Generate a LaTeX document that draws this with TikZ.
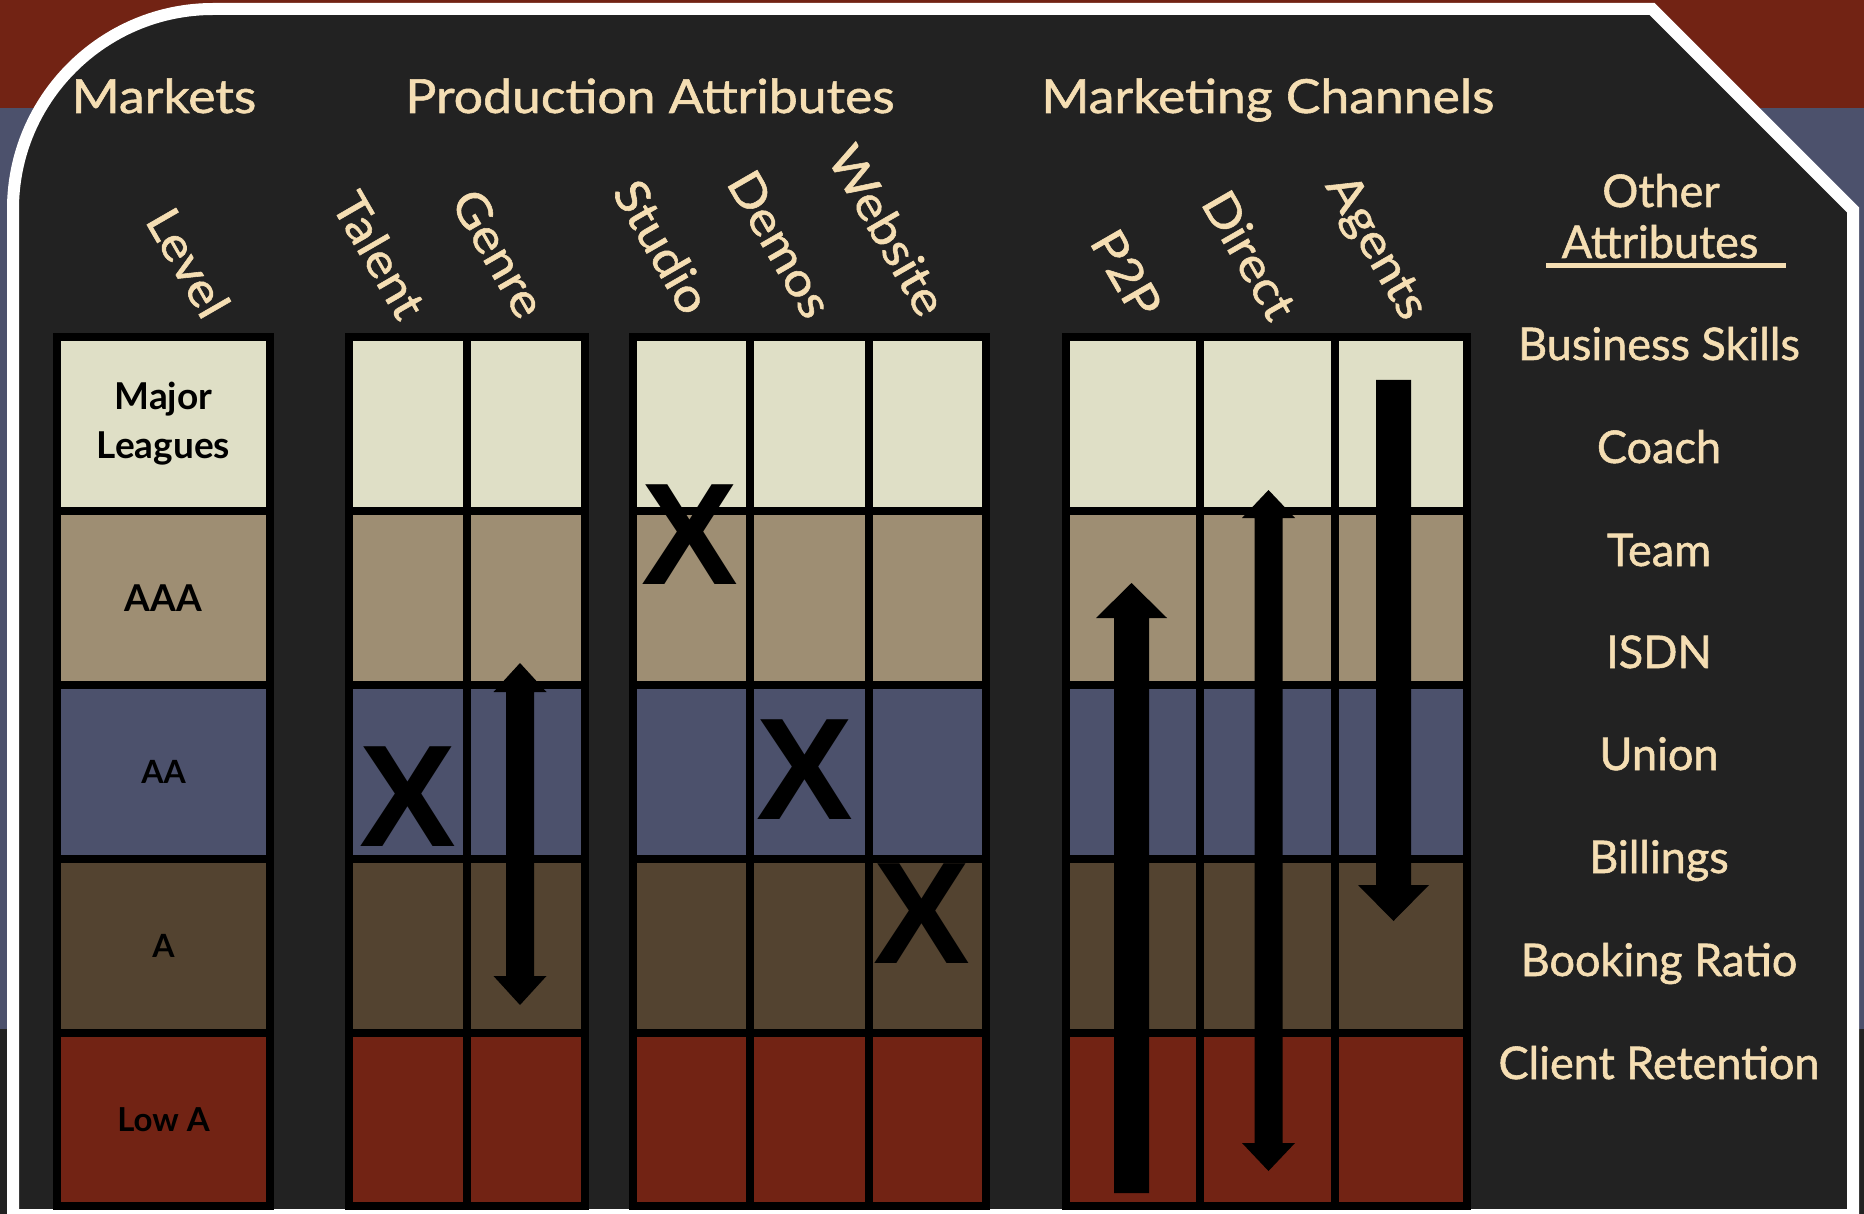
\documentclass[tikz,border=0pt]{standalone}
\usepackage{fontspec}
\setmainfont{Lato}
\newfontfamily\hfont{Lato}[FakeStretch=1.1, FakeBold=1.2]
\newfontfamily\lfont{Lato}[FakeBold=1.2]
\newfontfamily\xfont{Liberation Sans}
\usetikzlibrary{calc}
\definecolor{bgdark}{HTML}{222222}
\definecolor{bandred}{HTML}{722314}
\definecolor{bandslate}{HTML}{4C516C}
\definecolor{rowA}{HTML}{DFDFC6}
\definecolor{rowB}{HTML}{9E8E73}
\definecolor{rowC}{HTML}{4C516C}
\definecolor{rowD}{HTML}{534330}
\definecolor{rowE}{HTML}{722314}
\definecolor{wheat}{HTML}{F5DEB3}
\begin{document}
\begin{tikzpicture}[x=1pt,y=-1pt,
  header/.style={text=wheat, font=\hfont\fontsize{47}{54}\selectfont, inner sep=0pt, anchor=base},
  collabel/.style={text=wheat, font=\hfont\fontsize{47}{54}\selectfont, inner sep=0pt, anchor=base east, rotate=-60},
  attr/.style={text=wheat, font=\lfont\fontsize{45}{50}\selectfont, inner sep=0pt, anchor=base},
  rowlabel/.style={text=black, font=\bfseries\fontsize{32}{49}\selectfont, inner sep=0pt, align=center},
  xmark/.style={text=black, font=\xfont\bfseries\fontsize{145}{145}\selectfont, inner sep=0pt},
  gridline/.style={line width=8pt, black, line cap=rect},
  blockarrow/.style={fill=black}
]
\useasboundingbox (0,0) rectangle (1864,1214);
% backdrop
\fill[bgdark] (0,0) rectangle (1864,1214);
\fill[bandred] (0,0) rectangle (1864,108);
\fill[bandslate] (0,108) rectangle (1864,1029);
% main panel
\draw[line width=12pt, white, fill=bgdark, line join=miter]
  (13,1215) -- (13,209) .. controls (13,99) and (103,9) .. (213,9)
  -- (1652,9) -- (1853,210) -- (1853,1215) -- cycle;

% cells
\foreach \xl/\xr in {57/270, 349/585, 633/986, 1066/1467} {
  \fill[rowA] (\xl,337) rectangle (\xr,511);
  \fill[rowB] (\xl,511) rectangle (\xr,685);
  \fill[rowC] (\xl,685) rectangle (\xr,859);
  \fill[rowD] (\xl,859) rectangle (\xr,1033);
  \fill[rowE] (\xl,1033) rectangle (\xr,1206);
  \foreach \y in {337,511,685,859,1033,1206}
    \draw[gridline] (\xl,\y) -- (\xr,\y);
}
\foreach \x in {57,270,349,467,585,633,750,869,986,1066,1200,1335,1467}
  \draw[gridline] (\x,337) -- (\x,1206);

% headers
\node[header] (hmk) at (164,113) {Markets};
\node[header] (hpa) at (650,113) {Production Attributes};
\node[header] (hmc) at (1268,113) {Marketing Channels};

% column labels
\node[collabel] (lLevel) at (203,322) {Level};
\node[collabel] (lTalent) at (399,323) {Talent};
\node[collabel] (lGenre) at (519,322) {Genre};
\node[collabel] (lStudio) at (684,318) {Studio};
\node[collabel] (lDemos) at (806,322) {Demos};
\node[collabel] (lWebsite) at (920,320) {Website};
\node[collabel] (lP2P) at (1135,322) {P2P};
\node[collabel] (lDirect) at (1270,324) {Direct};
\node[collabel] (lAgents) at (1404,323) {Agents};

% row labels
\node[rowlabel, font=\bfseries\fontsize{37}{49}\selectfont] (rML) at (163.5,424) {Major\\Leagues};
\node[rowlabel, font=\bfseries\fontsize{37}{40}\selectfont] (rAAA) at (163.5,598) {AAA};
\node[rowlabel] (rAA) at (163.5,772) {AA};
\node[rowlabel] (rA) at (163.5,946) {A};
\node[rowlabel, font=\bfseries\fontsize{33}{40}\selectfont] (rLA) at (163.5,1119.5) {Low A};

% other attributes
\node[attr] (oOther) at (1661,207) {Other};
\node[attr] (oAttr) at (1660,258) {Attributes};
\draw[wheat, line width=5pt] (1546,265.5) -- (1786,265.5);
\node[attr] (o1) at (1659,360) {Business Skills};
\node[attr] (o2) at (1659,463) {Coach};
\node[attr] (o3) at (1659,566) {Team};
\node[attr] (o4) at (1659,668) {ISDN};
\node[attr] (o5) at (1659,770) {Union};
\node[attr] (o6) at (1659,873) {Billings};
\node[attr] (o7) at (1659,976) {Booking Ratio};
\node[attr] (o8) at (1659,1079) {Client Retention};

% X marks
\node[xmark] (xTalent) at (408,797) {X};
\node[xmark] (xStudio) at (690,535) {X};
\node[xmark] (xDemos) at (805,770) {X};
\node[xmark] (xWebsite) at (922,914) {X};

% block arrows
\coordinate (gT) at (520,663);
\coordinate (gB) at (520,1005);
\fill[blockarrow] (gT) -- ++(26.5,29) -- ++(-12.5,0) -- ($(gB)+(14,-29)$) -- ++(12.5,0)
  -- (gB) -- ++(-26.5,-29) -- ++(12.5,0) -- ($(gT)+(-14,29)$) -- ++(-12.5,0) -- cycle;
\coordinate (pT) at (1131.5,583);
\coordinate (pB) at (1131.5,1193);
\fill[blockarrow] (pT) -- ++(35.5,35) -- ++(-18,0) -- ($(pB)+(17.5,0)$) -- ++(-35,0)
  -- ($(pT)+(-17.5,35)$) -- ++(-18,0) -- cycle;
\coordinate (dT) at (1268.5,490);
\coordinate (dB) at (1268.5,1171);
\fill[blockarrow] (dT) -- ++(26.5,28) -- ++(-12.5,0) -- ($(dB)+(14,-28)$) -- ++(12.5,0)
  -- (dB) -- ++(-26.5,-28) -- ++(12.5,0) -- ($(dT)+(-14,28)$) -- ++(-12.5,0) -- cycle;
\coordinate (aT) at (1393.5,380);
\coordinate (aB) at (1393.5,921);
\fill[blockarrow] ($(aT)+(-17.5,0)$) -- ++(35,0) -- ($(aB)+(17.5,-36)$) -- ++(18,0)
  -- (aB) -- ++(-35.5,-36) -- ++(18,0) -- cycle;
\end{tikzpicture}
\end{document}
